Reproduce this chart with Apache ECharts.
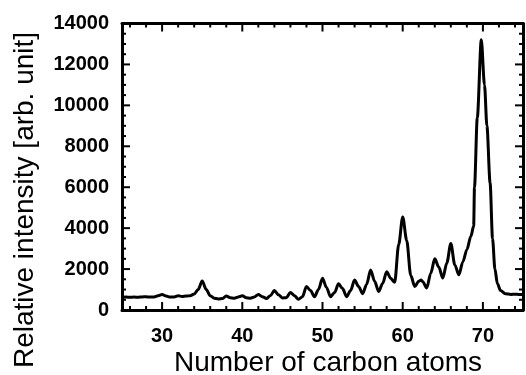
<!DOCTYPE html>
<html>
<head>
<meta charset="utf-8">
<script src="https://cdn.jsdelivr.net/npm/echarts@6/dist/echarts.min.js"></script>
<style>
  html, body { margin: 0; padding: 0; background: #fff; }
  #main { width: 526px; height: 375px; }
</style>
</head>
<body>
<div id="main"></div>
<script>
// 数据：碳原子数 / 相对强度
var carbonNum = [25, 25.5, 26, 26.5, 27, 27.5, 28, 28.5, 29, 29.5, 30, 30.5, 31, 31.5, 32, 32.5, 33, 33.5, 34, 34.5,
    35, 35.5, 36, 36.5, 37, 37.5, 38, 38.5, 39, 39.5, 40, 40.5, 41, 41.5, 42, 42.5, 43, 43.5, 44, 44.5,
    45, 45.5, 46, 46.5, 47, 47.5, 48, 48.5, 49, 49.5, 50, 50.5, 51, 51.5, 52, 52.5, 53, 53.5, 54, 54.5,
    55, 55.5, 56, 56.5, 57, 57.5, 58, 58.5, 59, 59.5, 60, 60.5, 61, 61.5, 62, 62.3, 62.5, 63, 63.5, 64,
    64.5, 65, 65.5, 66, 66.5, 67, 67.5, 68, 68.5, 68.85, 68.95, 69.3, 69.8, 70.2, 70.5, 70.9, 71.2, 71.5, 71.8, 72.2,
    72.8, 73.5, 74, 74.5, 75];
var intensity = [620, 630, 620, 630, 620, 640, 650, 630, 640, 700, 760, 680, 630, 640, 700, 660, 680, 700, 780, 1000,
    1420, 1000, 700, 580, 540, 560, 680, 600, 580, 640, 700, 600, 580, 640, 760, 650, 560, 700, 950, 750,
    590, 600, 860, 700, 520, 650, 1150, 950, 650, 1000, 1550, 1100, 650, 850, 1280, 1050, 650, 950, 1460, 1150,
    800, 1250, 1950, 1400, 900, 1300, 1870, 1550, 1350, 3200, 4550, 3400, 1700, 1150, 1400, 1470, 1380, 1080, 1800, 2500,
    2100, 1560, 2300, 3250, 2200, 1720, 2350, 2950, 3600, 4100, 6000, 9400, 13200, 11000, 9000, 6200, 3500, 2000, 1300, 950,
    800, 760, 770, 760, 760];

// 刻度
var xMajorTicks = [30, 40, 50, 60, 70];
var xMinorTicks = [26, 28, 32, 34, 36, 38, 42, 44, 46, 48, 52, 54, 56, 58, 62, 64, 66, 68, 72, 74];
var yMajorTicks = [2000, 4000, 6000, 8000, 10000, 12000];
var yMinorTicks = [500, 1000, 1500, 2500, 3000, 3500, 4500, 5000, 5500, 6500, 7000, 7500,
    8500, 9000, 9500, 10500, 11000, 11500, 12500, 13000, 13500];

(function() {
    var myChart = echarts.init(document.getElementById('main'));

    var seriesData = [];
    for (var i = 0; i < carbonNum.length; i++) {
        seriesData.push([carbonNum[i], intensity[i]]);
    }

    // 刻度线数据：[值, 长度, 边] 边: 0下 1上 2左 3右
    var tickData = [];
    function addTicks(list, len, sides) {
        for (var k = 0; k < list.length; k++) {
            for (var s = 0; s < sides.length; s++) {
                tickData.push([list[k], len, sides[s]]);
            }
        }
    }
    addTicks(xMajorTicks, 8, [0, 1]);
    addTicks(xMinorTicks, 4, [0, 1]);
    addTicks(yMajorTicks, 8, [2, 3]);
    addTicks(yMinorTicks, 4, [2, 3]);

    function renderTick(params, api) {
        var cs = params.coordSys;
        var v = api.value(0), len = api.value(1), side = api.value(2);
        var x1, y1, x2, y2;
        if (side < 2) {
            var px = api.coord([v, 0])[0];
            x1 = x2 = px;
            y1 = side === 0 ? cs.y + cs.height : cs.y;
            y2 = side === 0 ? y1 - len : y1 + len;
        } else {
            var py = api.coord([25, v])[1];
            y1 = y2 = py;
            x1 = side === 2 ? cs.x : cs.x + cs.width;
            x2 = side === 2 ? x1 + len : x1 - len;
        }
        return {
            type: 'line',
            shape: { x1: x1, y1: y1, x2: x2, y2: y2 },
            style: { stroke: '#000', lineWidth: 2 }
        };
    }

    var fontFam = "'Liberation Sans', Arial";

    function xAxisCfg(pos, showLabel) {
        return {
            type: 'value',
            position: pos,
            min: 25,
            max: 75,
            splitLine: { show: false },
            axisLine: { show: true, onZero: false, lineStyle: { color: '#000', width: 3 } },
            axisTick: { show: false },
            axisLabel: {
                show: showLabel,
                customValues: xMajorTicks,
                margin: 16,
                color: '#000',
                fontSize: 20,
                fontWeight: 'bold',
                fontFamily: fontFam
            }
        };
    }

    function yAxisCfg(pos, showLabel) {
        return {
            type: 'value',
            position: pos,
            min: 0,
            max: 14000,
            interval: 2000,
            splitLine: { show: false },
            axisLine: { show: true, lineStyle: { color: '#000', width: 3 } },
            axisTick: { show: false },
            axisLabel: {
                show: showLabel,
                margin: 13,
                color: '#000',
                fontSize: 20,
                fontWeight: 'bold',
                fontFamily: fontFam,
                formatter: function(v) { return String(v); }
            }
        };
    }

    option = {
        animation: false,
        grid: {
            left: 122,
            top: 23.5,
            width: 401,
            height: 286.5,
            outerBoundsMode: 'none'
        },
        xAxis: [
            xAxisCfg('bottom', true),
            xAxisCfg('top', false)
        ],
        yAxis: [
            yAxisCfg('left', true),
            yAxisCfg('right', false)
        ],
        // 坐标轴标题
        graphic: [{
            type: 'text',
            x: 25,
            y: 200,
            rotation: Math.PI / 2,
            style: {
                text: 'Relative intensity [arb. unit]',
                fill: '#000',
                fontSize: 28,
                fontFamily: fontFam,
                align: 'center',
                verticalAlign: 'middle'
            }
        }, {
            type: 'text',
            x: 328,
            y: 363,
            style: {
                text: 'Number of carbon atoms',
                fill: '#000',
                fontSize: 28,
                fontFamily: fontFam,
                align: 'center',
                verticalAlign: 'middle'
            }
        }],
        series: [{
            type: 'line',
            xAxisIndex: 0,
            yAxisIndex: 0,
            data: seriesData,
            showSymbol: false,
            smooth: 0.3,
            smoothMonotone: 'x',
            lineStyle: { color: '#000', width: 3 }
        }, {
            // 框内刻度线
            type: 'custom',
            xAxisIndex: 0,
            yAxisIndex: 0,
            silent: true,
            z: 5,
            renderItem: renderTick,
            data: tickData
        }]
    };

    myChart.setOption(option);
})();
</script>
</body>
</html>
